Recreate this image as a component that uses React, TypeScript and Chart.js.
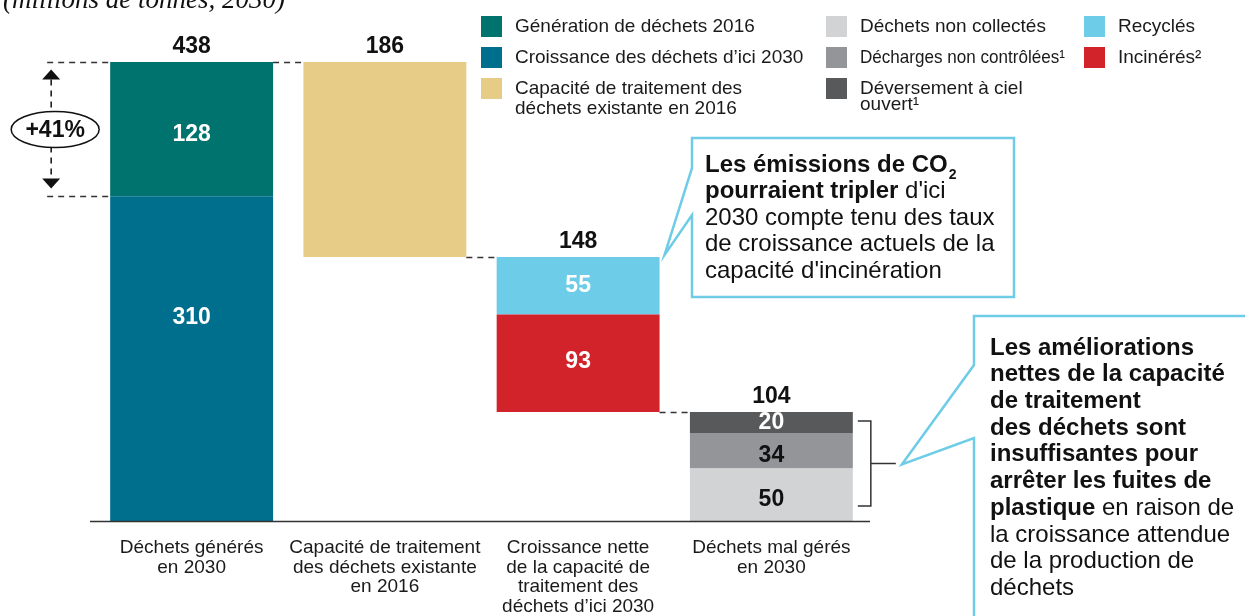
import React, { useEffect, useRef } from "react";
import { Chart, registerables } from "chart.js";
Chart.register(...registerables);

// ---------- DATA ----------
const categoryLabels = [
  ["Déchets générés", "en 2030"],
  ["Capacité de traitement", "des déchets existante", "en 2016"],
  ["Croissance nette", "de la capacité de", "traitement des", "déchets d’ici 2030"],
  ["Déchets mal gérés", "en 2030"],
];
const totals = [438, 186, 148, 104];
const generation2016 = [128, null, null, null];
const growth2030 = [310, null, null, null];
const capacity2016 = [null, 186, null, null];
const uncollected = [null, null, null, 50];
const uncontrolledDumps = [null, null, null, 34];
const openDumping = [null, null, null, 20];
const recycled = [null, null, 55, null];
const incinerated = [null, null, 93, null];
const growthPercent = "+41%";
const titleText = "(millions de tonnes, 2030)";

const seriesLabels = [
  ["Génération de déchets 2016"],
  ["Croissance des déchets d’ici 2030"],
  ["Capacité de traitement des", "déchets existante en 2016"],
  ["Déchets non collectés"],
  ["Décharges non contrôlées¹"],
  ["Déversement à ciel", "ouvert¹"],
  ["Recyclés"],
  ["Incinérés²"],
];
const seriesValues = [
  generation2016, growth2030, capacity2016, uncollected,
  uncontrolledDumps, openDumping, recycled, incinerated,
];
const callout1 = [
  [{ t: "Les émissions de CO", b: true }, { t: "2", b: true, sub: true }],
  [{ t: "pourraient tripler", b: true }, { t: " d'ici", b: false }],
  [{ t: "2030 compte tenu des taux", b: false }],
  [{ t: "de croissance actuels de la", b: false }],
  [{ t: "capacité d'incinération", b: false }],
];
const callout2 = [
  [{ t: "Les améliorations", b: true }],
  [{ t: "nettes de la capacité", b: true }],
  [{ t: "de traitement", b: true }],
  [{ t: "des déchets sont", b: true }],
  [{ t: "insuffisantes pour", b: true }],
  [{ t: "arrêter les fuites de", b: true }],
  [{ t: "plastique", b: true }, { t: " en raison de", b: false }],
  [{ t: "la croissance attendue", b: false }],
  [{ t: "de la production de", b: false }],
  [{ t: "déchets", b: false }],
];

// ---------- STYLE ----------
const seriesColors = ["#00736F", "#006F8D", "#E6CC87", "#D2D3D5", "#939598", "#58595B", "#6DCDE8", "#D2222A"];
const labelColors = ["#fff", "#fff", "#fff", "#111", "#111", "#fff", "#fff", "#fff"];
const labelFrac = [0.54, 0.375, 0.5, 0.59, 0.64, 0.5, 0.5, 0.48];
const showSegLabel = [true, true, false, true, true, true, true, true];
// bottom-up order of segments in each bar
const stackOrder = [1, 0, 2, 7, 6, 3, 4, 5];
// legend layout: [col x, row y]
const legendCols = [481, 826, 1084];
const legendRows = [16, 47, 78];
const legendPos = [[0, 0], [0, 1], [0, 2], [1, 0], [1, 1], [1, 2], [2, 0], [2, 1]];
const legendLineGap = [20, 20, 20, 20, 20, 16, 20, 20];
const legendMaxW = [0, 0, 0, 0, 205, 0, 0, 0];
const SANS = "'Liberation Sans', Arial, sans-serif";

const bases = [0, totals[0] - totals[1], totals[0] - totals[1] - totals[2], 0];

function buildDatasets() {
  const cursor = [...bases];
  return stackOrder.map((si) => {
    const data = seriesValues[si].map((v, i) => {
      if (v == null) return null;
      const r = [cursor[i], cursor[i] + v];
      cursor[i] += v;
      return r;
    });
    return {
      label: seriesLabels[si].join(" "),
      data,
      backgroundColor: seriesColors[si],
      borderWidth: 0,
      barPercentage: 0.843,
      categoryPercentage: 1,
      seriesIndex: si,
    };
  });
}

function dashed(ctx, x1, y1, x2, y2, dash = [6, 5]) {
  ctx.save();
  ctx.setLineDash(dash);
  ctx.beginPath();
  ctx.moveTo(x1, y1);
  ctx.lineTo(x2, y2);
  ctx.stroke();
  ctx.restore();
}

function drawRich(ctx, lines, x, y0, gap, size) {
  lines.forEach((segs, li) => {
    let cx = x;
    const cy = y0 + li * gap;
    segs.forEach((s) => {
      if (s.sub) {
        ctx.font = `bold ${Math.round(size * 0.6)}px ${SANS}`;
        ctx.fillText(s.t, cx + 1, cy + 10);
        cx += ctx.measureText(s.t).width + 1;
      } else {
        ctx.font = `${s.b ? "bold " : ""}${size}px ${SANS}`;
        ctx.fillText(s.t, cx, cy);
        cx += ctx.measureText(s.t).width;
      }
    });
  });
}

const annotations = {
  id: "annotations",
  afterDatasetsDraw(chart) {
    const ctx = chart.ctx;
    const area = chart.chartArea;
    const yS = chart.scales.y;
    ctx.save();
    ctx.textBaseline = "middle";

    // gather bar geometry per category
    const bars = categoryLabels.map(() => ({ x: 0, left: 0, right: 0, top: Infinity, bottom: -Infinity }));
    chart.data.datasets.forEach((ds, di) => {
      const meta = chart.getDatasetMeta(di);
      ds.data.forEach((d, i) => {
        if (d == null) return;
        const el = meta.data[i];
        const b = bars[i];
        b.x = el.x;
        b.left = el.x - el.width / 2;
        b.right = el.x + el.width / 2;
        b.top = Math.min(b.top, el.y, el.base);
        b.bottom = Math.max(b.bottom, el.y, el.base);
        const si = ds.seriesIndex;
        if (showSegLabel[si]) {
          const top = Math.min(el.y, el.base);
          const h = Math.abs(el.base - el.y);
          ctx.font = `bold 23px ${SANS}`;
          ctx.fillStyle = labelColors[si];
          ctx.textAlign = "center";
          ctx.fillText(String(seriesValues[si][i]), el.x, top + h * labelFrac[si]);
        }
      });
    });

    // totals
    ctx.fillStyle = "#111";
    ctx.textAlign = "center";
    ctx.font = `bold 23px ${SANS}`;
    bars.forEach((b, i) => ctx.fillText(String(totals[i]), b.x, b.top - 15));

    // axis line
    ctx.strokeStyle = "#333";
    ctx.lineWidth = 1.5;
    ctx.beginPath();
    ctx.moveTo(area.left - 5, area.bottom + 0.5);
    ctx.lineTo(area.right + 2, area.bottom + 0.5);
    ctx.stroke();

    // category labels
    ctx.fillStyle = "#1a1a1a";
    ctx.font = `19px ${SANS}`;
    categoryLabels.forEach((lines, i) => {
      lines.forEach((l, k) => ctx.fillText(l, bars[i].x, area.bottom + 27 + k * 19.5));
    });

    // connectors
    ctx.strokeStyle = "#333";
    ctx.lineWidth = 1.5;
    for (let i = 0; i < 3; i++) {
      const level = i === 0 ? totals[0] : bases[i];
      const y = Math.round(yS.getPixelForValue(level)) + 0.5;
      dashed(ctx, bars[i].right, y, bars[i + 1].left, y);
    }

    // +41% annotation
    const b0 = bars[0];
    const yTop = Math.round(yS.getPixelForValue(totals[0])) + 0.5;
    const yMid = Math.round(yS.getPixelForValue(growth2030[0])) + 0.5;
    dashed(ctx, b0.left - 63, yTop, b0.left, yTop);
    dashed(ctx, b0.left - 63, yMid, b0.left, yMid);
    const ax = b0.left - 59;
    const ey = (yTop + yMid) / 2;
    ctx.strokeStyle = "#111";
    ctx.fillStyle = "#111";
    dashed(ctx, ax, yTop + 17, ax, ey - 17);
    dashed(ctx, ax, ey + 17, ax, yMid - 18);
    ctx.beginPath();
    ctx.moveTo(ax, yTop + 7);
    ctx.lineTo(ax - 9, yTop + 17);
    ctx.lineTo(ax + 9, yTop + 17);
    ctx.closePath();
    ctx.fill();
    ctx.beginPath();
    ctx.moveTo(ax, yMid - 8);
    ctx.lineTo(ax - 9, yMid - 18);
    ctx.lineTo(ax + 9, yMid - 18);
    ctx.closePath();
    ctx.fill();
    ctx.beginPath();
    ctx.ellipse(ax + 4, ey, 44, 18, 0, 0, Math.PI * 2);
    ctx.fillStyle = "#fff";
    ctx.fill();
    ctx.lineWidth = 1.5;
    ctx.stroke();
    ctx.fillStyle = "#111";
    ctx.font = `bold 23px ${SANS}`;
    ctx.fillText(growthPercent, ax + 4, ey + 1);

    // bracket on last bar
    const b3 = bars[3];
    const bx = b3.right + 18;
    const bt = b3.top + 9;
    const bb = b3.bottom - 15;
    const bm = (bt + bb) / 2;
    ctx.strokeStyle = "#333";
    ctx.lineWidth = 1.5;
    ctx.beginPath();
    ctx.moveTo(b3.right + 5, bt);
    ctx.lineTo(bx, bt);
    ctx.lineTo(bx, bb);
    ctx.lineTo(b3.right + 5, bb);
    ctx.moveTo(bx, bm);
    ctx.lineTo(bx + 25, bm);
    ctx.stroke();

    // callout 1
    const b2 = bars[2];
    ctx.strokeStyle = "#6FCCE7";
    ctx.lineWidth = 2.5;
    ctx.fillStyle = "#fff";
    ctx.beginPath();
    ctx.moveTo(692, 138);
    ctx.lineTo(1014, 138);
    ctx.lineTo(1014, 297);
    ctx.lineTo(692, 297);
    ctx.lineTo(692, 215);
    ctx.lineTo(b2.right + 5, b2.top - 2);
    ctx.lineTo(692, 168);
    ctx.closePath();
    ctx.fill();
    ctx.stroke();

    // callout 2
    ctx.beginPath();
    ctx.moveTo(974, 316);
    ctx.lineTo(1252, 316);
    ctx.lineTo(1252, 622);
    ctx.lineTo(974, 622);
    ctx.lineTo(974, 438);
    ctx.lineTo(bx + 31, bm + 1);
    ctx.lineTo(974, 365);
    ctx.closePath();
    ctx.fill();
    ctx.stroke();

    ctx.fillStyle = "#111";
    ctx.textAlign = "left";
    drawRich(ctx, callout1, 705, 165, 26.5, 24);
    drawRich(ctx, callout2, 990, 348, 26.7, 24);

    // legend
    seriesLabels.forEach((lines, si) => {
      const [c, r] = legendPos[si];
      const x = legendCols[c];
      const y = legendRows[r];
      ctx.fillStyle = seriesColors[si];
      ctx.fillRect(x, y, 21, 21);
      ctx.fillStyle = "#1a1a1a";
      ctx.font = `19px ${SANS}`;
      lines.forEach((l, k) => {
        if (legendMaxW[si]) ctx.fillText(l, x + 34, y + 11 + k * legendLineGap[si], legendMaxW[si]);
        else ctx.fillText(l, x + 34, y + 11 + k * legendLineGap[si]);
      });
    });

    // title (cut at top)
    ctx.textBaseline = "alphabetic";
    ctx.font = `italic 27px 'Liberation Serif', serif`;
    ctx.fillStyle = "#111";
    ctx.fillText(titleText, 3, 8);

    ctx.restore();
  },
};

export default function App() {
  const ref = useRef(null);
  useEffect(() => {
    const chart = new Chart(ref.current, {
      type: "bar",
      data: { labels: categoryLabels.map((l) => l.join(" ")), datasets: buildDatasets() },
      options: {
        animation: false,
        responsive: false,
        devicePixelRatio: 1,
        layout: { padding: { left: 95, right: 377, top: 28.5, bottom: 95 } },
        plugins: { legend: { display: false }, tooltip: { enabled: false }, title: { display: false } },
        scales: {
          x: { type: "category", stacked: true, display: false, offset: true },
          y: { min: 0, max: 470, stacked: false, display: false },
        },
      },
      plugins: [annotations],
    });
    return () => chart.destroy();
  }, []);
  return (
    <div style={{ position: "fixed", left: 0, top: 0, width: 1245, height: 616, background: "#fff" }}>
      <canvas ref={ref} width={1245} height={616} style={{ display: "block" }} />
    </div>
  );
}
